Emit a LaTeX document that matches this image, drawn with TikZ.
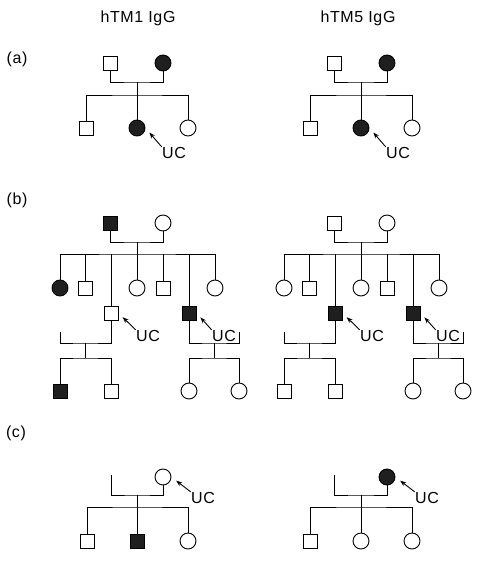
\documentclass[tikz,border=0pt]{standalone}
\usepackage{fontspec}
\setmainfont[LetterSpace=4]{Liberation Sans}
\usetikzlibrary{arrows.meta,positioning}

\begin{document}
\begin{tikzpicture}[x=1pt,y=-1pt,line width=0.9pt,
font=\fontsize{16}{19}\selectfont,
male/.style={rectangle, draw, minimum size=14pt, inner sep=0pt},
female/.style={circle, draw, minimum size=16pt, inner sep=0pt},
affected/.style={fill=black!88},
label/.style={inner sep=0pt},
pointer/.style={-{Stealth[length=6pt,width=4.5pt]}, shorten >=6pt},
]
\useasboundingbox (0,0) rectangle (477,561);

\node at (138,23) [anchor=base](title_left){hTM1 IgG};
\node at (358,23) [anchor=base](title_right){hTM5 IgG};

% (a)
\node at (17,59) [label](lab_a){(a)};

\node at (110,63) [male](a1_father){};
\node at (163,63) [female,affected](a1_mother){};
\coordinate (a1_m) at (137,82);
\coordinate (a1_s) at (137,95);
\draw (a1_father.south) |- (a1_m) -| (a1_mother.south);
\draw (a1_m) -- (a1_s);
\node at (86,128) [male](a1_son){};
\node at (137,128) [female,affected](a1_index){};
\node at (188,128) [female](a1_daughter){};
\draw (a1_son.north) |- (a1_s) -| (a1_daughter.north);
\draw (a1_s) -- (a1_index.north);
\node at (174,153) [label](a1_uc){UC};
\draw[pointer] (a1_uc.north west) -- (a1_index.east);

\node at (334,63) [male](a2_father){};
\node at (387,63) [female,affected](a2_mother){};
\coordinate (a2_m) at (361,82);
\coordinate (a2_s) at (361,95);
\draw (a2_father.south) |- (a2_m) -| (a2_mother.south);
\draw (a2_m) -- (a2_s);
\node at (310,128) [male](a2_son){};
\node at (361,128) [female,affected](a2_index){};
\node at (412,128) [female](a2_daughter){};
\draw (a2_son.north) |- (a2_s) -| (a2_daughter.north);
\draw (a2_s) -- (a2_index.north);
\node at (398,153) [label](a2_uc){UC};
\draw[pointer] (a2_uc.north west) -- (a2_index.east);

% (b)
\node at (17,200) [label](lab_b){(b)};

\node at (110,223) [male,affected](b1_father){};
\node at (163,223) [female](b1_mother){};
\coordinate (b1_m) at (137,242);
\coordinate (b1_s) at (137,254);
\draw (b1_father.south) |- (b1_m) -| (b1_mother.south);
\draw (b1_m) -- (b1_s);
\node at (60,288) [female,affected](b1_c1){};
\node at (85,288) [male](b1_c2){};
\node at (111,313) [male](b1_c3){};
\node at (137,288) [female](b1_c4){};
\node at (163,288) [male](b1_c5){};
\node at (189,313) [male,affected](b1_c6){};
\node at (215,288) [female](b1_c7){};
\draw (b1_c1.north) |- (b1_s) -| (b1_c7.north);
\draw (b1_c2.north) -- (b1_c2.north |- b1_s);
\draw (b1_c3.north) -- (b1_c3.north |- b1_s);
\draw (b1_c4.north) -- (b1_c4.north |- b1_s);
\draw (b1_c5.north) -- (b1_c5.north |- b1_s);
\draw (b1_c6.north) -- (b1_c6.north |- b1_s);
\node at (148,336) [label](b1_uc3){UC};
\draw[pointer] (b1_uc3.north west) -- (b1_c3.east);
\node at (224,336) [label](b1_uc6){UC};
\draw[pointer] (b1_uc6.north west) -- (b1_c6.east);

\coordinate (b1_lstub) at (60,332);
\coordinate (b1_lm) at (85,343);
\coordinate (b1_ls) at (85,358);
\draw (b1_c3.south) |- (b1_lm) -| (b1_lstub);
\draw (b1_lm) -- (b1_ls);
\node at (60,391) [male,affected](b1_lg1){};
\node at (111,391) [male](b1_lg2){};
\draw (b1_lg1.north) |- (b1_ls) -| (b1_lg2.north);

\coordinate (b1_rstub) at (239,332);
\coordinate (b1_rm) at (214,343);
\coordinate (b1_rs) at (214,358);
\draw (b1_c6.south) |- (b1_rm) -| (b1_rstub);
\draw (b1_rm) -- (b1_rs);
\node at (189,391) [female](b1_rg1){};
\node at (239,391) [female](b1_rg2){};
\draw (b1_rg1.north) |- (b1_rs) -| (b1_rg2.north);

\node at (334,223) [male](b2_father){};
\node at (387,223) [female](b2_mother){};
\coordinate (b2_m) at (361,242);
\coordinate (b2_s) at (361,254);
\draw (b2_father.south) |- (b2_m) -| (b2_mother.south);
\draw (b2_m) -- (b2_s);
\node at (284,288) [female](b2_c1){};
\node at (309,288) [male](b2_c2){};
\node at (335,313) [male,affected](b2_c3){};
\node at (361,288) [female](b2_c4){};
\node at (387,288) [male](b2_c5){};
\node at (413,313) [male,affected](b2_c6){};
\node at (439,288) [female](b2_c7){};
\draw (b2_c1.north) |- (b2_s) -| (b2_c7.north);
\draw (b2_c2.north) -- (b2_c2.north |- b2_s);
\draw (b2_c3.north) -- (b2_c3.north |- b2_s);
\draw (b2_c4.north) -- (b2_c4.north |- b2_s);
\draw (b2_c5.north) -- (b2_c5.north |- b2_s);
\draw (b2_c6.north) -- (b2_c6.north |- b2_s);
\node at (372,336) [label](b2_uc3){UC};
\draw[pointer] (b2_uc3.north west) -- (b2_c3.east);
\node at (448,336) [label](b2_uc6){UC};
\draw[pointer] (b2_uc6.north west) -- (b2_c6.east);

\coordinate (b2_lstub) at (284,332);
\coordinate (b2_lm) at (309,343);
\coordinate (b2_ls) at (309,358);
\draw (b2_c3.south) |- (b2_lm) -| (b2_lstub);
\draw (b2_lm) -- (b2_ls);
\node at (284,391) [male](b2_lg1){};
\node at (335,391) [male](b2_lg2){};
\draw (b2_lg1.north) |- (b2_ls) -| (b2_lg2.north);

\coordinate (b2_rstub) at (463,332);
\coordinate (b2_rm) at (438,343);
\coordinate (b2_rs) at (438,358);
\draw (b2_c6.south) |- (b2_rm) -| (b2_rstub);
\draw (b2_rm) -- (b2_rs);
\node at (413,391) [female](b2_rg1){};
\node at (463,391) [female](b2_rg2){};
\draw (b2_rg1.north) |- (b2_rs) -| (b2_rg2.north);

% (c)
\node at (16,433) [label](lab_c){(c)};

\coordinate (c1_stub) at (111,475);
\node at (163,477) [female](c1_mother){};
\coordinate (c1_m) at (137,495);
\coordinate (c1_s) at (137,507);
\draw (c1_stub) |- (c1_m) -| (c1_mother.south);
\draw (c1_m) -- (c1_s);
\node at (87,541) [male](c1_son){};
\node at (137,541) [male,affected](c1_son2){};
\node at (188,541) [female](c1_daughter){};
\draw (c1_son.north) |- (c1_s) -| (c1_daughter.north);
\draw (c1_s) -- (c1_son2.north);
\node at (203,498) [label](c1_uc){UC};
\draw[pointer] (c1_uc.north west) -- (c1_mother.east);

\coordinate (c2_stub) at (334,475);
\node at (387,477) [female,affected](c2_mother){};
\coordinate (c2_m) at (361,495);
\coordinate (c2_s) at (361,507);
\draw (c2_stub) |- (c2_m) -| (c2_mother.south);
\draw (c2_m) -- (c2_s);
\node at (310,541) [male](c2_son){};
\node at (361,541) [female](c2_daughter){};
\node at (412,541) [female](c2_daughter2){};
\draw (c2_son.north) |- (c2_s) -| (c2_daughter2.north);
\draw (c2_s) -- (c2_daughter.north);
\node at (427,498) [label](c2_uc){UC};
\draw[pointer] (c2_uc.north west) -- (c2_mother.east);

\end{tikzpicture}
\end{document}
